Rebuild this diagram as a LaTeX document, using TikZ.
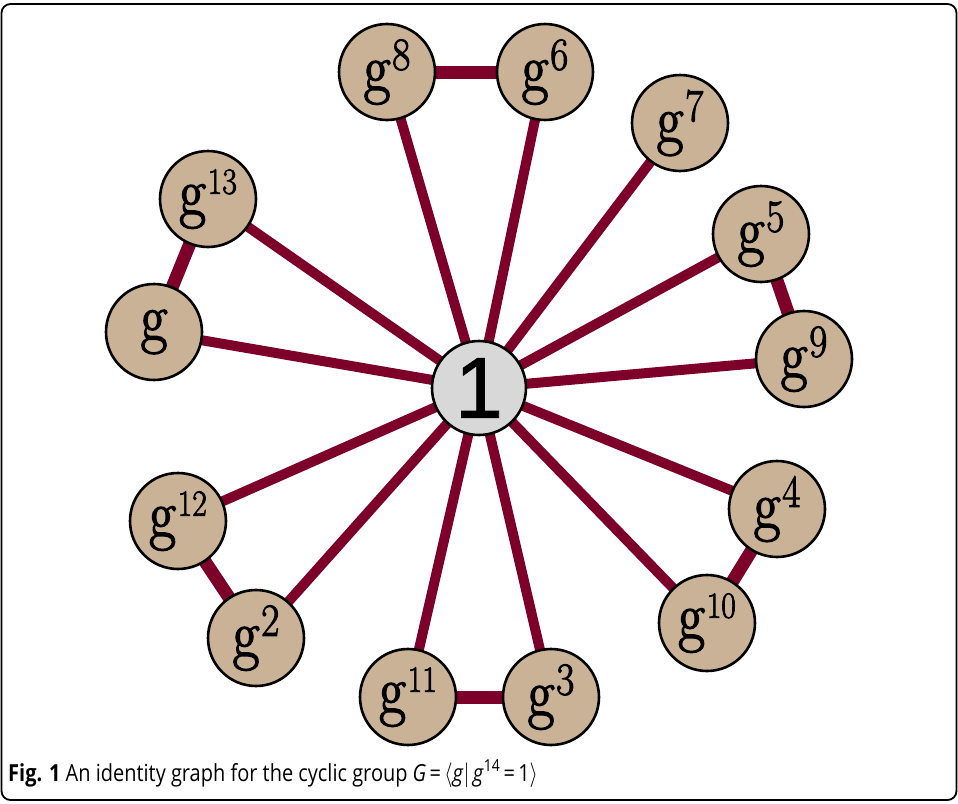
\documentclass[tikz,border=0pt]{standalone}
\usepackage{fontspec}
\usepackage{graphicx}
\newfontfamily\onefont[FakeBold=1]{Liberation Sans}
\newfontfamily\capfont{Open Sans}
\newfontfamily\lblfont[FakeBold=2.2]{Latin Modern Roman}
\pgfdeclarelayer{bg}
\pgfsetlayers{bg,main}
\definecolor{edgered}{RGB}{125,0,42}
\definecolor{nodetan}{RGB}{201,178,150}
\definecolor{idgray}{RGB}{216,216,216}
% element label: g with a raised exponent
\newcommand\gpow[2][46]{\scalebox{0.86}[1]{\lblfont\fontsize{68}{68}\selectfont g\kern2pt\raisebox{21pt}{\fontsize{#1}{#1}\selectfont #2}}}
\tikzset{
  elem/.style={circle, draw=black, line width=2.6pt, fill=nodetan,
    minimum size=96pt, inner sep=0pt},
  ident/.style={circle, draw=black, line width=2.6pt, fill=idgray,
    minimum size=94pt, inner sep=0pt},
  spoke/.style={draw=edgered, line width=10pt},
  pair/.style={draw=edgered, line width=13pt},
}
\begin{document}
\begin{tikzpicture}[x=1pt, y=-1pt]
\useasboundingbox (0,0) rectangle (958,803);
\draw[line width=1.8pt, rounded corners=9pt] (1.5,4) rectangle (956.5,800);

\node[ident] (e) at (479,388) {\onefont\fontsize{86}{86}\selectfont 1};

\node[elem] (g8)  at (387,72)  {\gpow{8}};
\node[elem] (g6)  at (545,72)  {\gpow{6}};
\node[elem] (g7)  at (680,123) {\gpow{7}};
\node[elem] (g5)  at (761,234) {\gpow{5}};
\node[elem] (g9)  at (804,359) {\gpow{9}};
\node[elem] (g4)  at (777,509) {\gpow{4}};
\node[elem] (g10) at (707,623) {\gpow[37]{10}};
\node[elem] (g3)  at (551,697) {\gpow{3}};
\node[elem] (g11) at (408,697) {\gpow[37]{11}};
\node[elem] (g2)  at (256,638) {\gpow{2}};
\node[elem] (g12) at (178,521) {\gpow[37]{12}};
\node[elem] (g1)  at (154,332) {\scalebox{0.86}[1]{\lblfont\fontsize{68}{68}\selectfont g}};
\node[elem] (g13) at (208,199) {\gpow[37]{13}};

\begin{pgfonlayer}{bg}
  \foreach \n in {g1,g2,g3,g4,g5,g6,g7,g8,g9,g10,g11,g12,g13}
    \path[spoke] (e.center) -- (\n.center);
  \path[pair] (g8.center) -- (g6.center);
  \path[pair] (g5.center) -- (g9.center);
  \path[pair] (g4.center) -- (g10.center);
  \path[pair] (g3.center) -- (g11.center);
  \path[pair] (g2.center) -- (g12.center);
  \path[pair] (g1.center) -- (g13.center);
\end{pgfonlayer}

\node[anchor=base west, inner sep=0pt] (cap) at (8,781)
  {\scalebox{0.85}[1]{\capfont\fontsize{23.5}{23.5}\selectfont\textbf{Fig. 1} An identity graph for the cyclic group \textit{G}\,=\,$\langle$\textit{g}$|$\,\textit{g}\textsuperscript{14}\,=\,1$\rangle$}};
\end{tikzpicture}
\end{document}
